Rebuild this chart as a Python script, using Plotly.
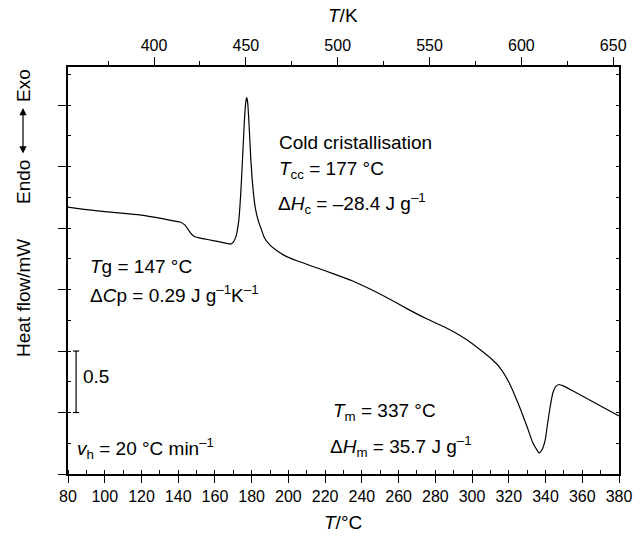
import plotly.graph_objects as go

# ---- data ----
temp_c = [80, 90, 100, 112, 120, 130, 138, 141, 143.7, 146.4, 148, 149.5, 152, 156, 162, 167, 168.5,
          170, 171.5, 173, 174, 175, 176, 176.8, 177.3, 177.8, 178.6, 179.5, 180.8, 182, 183.5, 185,
          187, 190, 194, 198, 205, 215, 225, 235, 245, 255, 265, 275, 285, 293, 300, 305, 310, 315,
          320, 325, 330, 333, 335, 336.5, 338, 339.8, 341, 342.5, 344, 345.5, 347.4, 350, 355, 360,
          365, 370, 375, 380]
heat_flow = [2.171, 2.150, 2.134, 2.118, 2.106, 2.081, 2.057, 2.049, 2.024, 1.967, 1.939, 1.927, 1.919,
             1.907, 1.890, 1.874, 1.870, 1.886, 1.935, 2.065, 2.268, 2.553, 2.862, 3.024, 3.061, 3.024,
             2.837, 2.569, 2.309, 2.163, 2.065, 2.000, 1.919, 1.862, 1.813, 1.776, 1.732, 1.679, 1.626,
             1.569, 1.500, 1.423, 1.341, 1.264, 1.195, 1.130, 1.062, 1.004, 0.943, 0.868, 0.748, 0.577,
             0.382, 0.256, 0.203, 0.171, 0.195, 0.276, 0.398, 0.545, 0.659, 0.711, 0.728, 0.715, 0.675,
             0.634, 0.593, 0.553, 0.512, 0.472]

x_range_c = [80, 380]
x_ticks_c = list(range(80, 381, 20))
k_offset = 273.15
k_ticks = [400, 450, 500, 550, 600, 650]
y_range = [0, 3.31]
scale_bar = [0.5, 1.0]   # 0.5 mW scale bar

FONT = "Liberation Sans, Arial, sans-serif"
TXT = 19

fig = go.Figure()
fig.add_trace(go.Scatter(x=temp_c, y=heat_flow, mode="lines",
                         line=dict(color="black", width=1.2, shape="spline", smoothing=0.5),
                         hoverinfo="skip", showlegend=False))
# invisible trace on secondary axes
fig.add_trace(go.Scatter(x=[x_range_c[0] + k_offset], y=[y_range[0]], xaxis="x2", yaxis="y2",
                         mode="markers", marker=dict(opacity=0), hoverinfo="skip", showlegend=False))

# scale bar
sb_x = 84.4
fig.add_shape(type="line", xref="x", yref="y", x0=sb_x, x1=sb_x, y0=scale_bar[0], y1=scale_bar[1],
              line=dict(color="black", width=1.2))
for yv in scale_bar:
    fig.add_shape(type="line", xref="x", yref="y", x0=sb_x - 1.7, x1=sb_x + 1.7, y0=yv, y1=yv,
                  line=dict(color="black", width=1.2))

L, R, T, B = 68, 619, 67, 474
def px(xp):
    return (xp - L) / (R - L)
def py(yp):
    return (B - yp) / (B - T)

def note(text, xp, yp, size=TXT, xanchor="left", angle=0):
    fig.add_annotation(text=text, xref="paper", yref="paper", x=px(xp), y=py(yp),
                       xanchor=xanchor, yanchor="middle", showarrow=False, textangle=angle,
                       font=dict(family=FONT, size=size, color="black"))

note("Cold cristallisation", 277, 142)
note("<i>T</i><sub>cc</sub> = 177 °C", 277, 170)
note("Δ<i>H</i><sub>c</sub> = –28.4 J g<sup>–1</sup>", 276, 203)
note("<i>T</i>g = 147 °C", 88, 266)
note("Δ<i>C</i>p = 0.29 J g<sup>–1</sup>K<sup>–1</sup>", 88, 294)
note("0.5", 81, 376)
note("<i>v</i><sub>h</sub> = 20 °C min<sup>–1</sup>", 75, 448)
note("<i>T</i><sub>m</sub> = 337 °C", 331, 412)
note("Δ<i>H</i><sub>m</sub> = 35.7 J g<sup>–1</sup>", 328, 446)

# axis titles
note("<i>T</i>/°C", 343, 522, xanchor="center")
note("<i>T</i>/K", 343, 15, xanchor="center")
note("Heat flow/mW", 23, 298, xanchor="center", angle=-90)
note("Exo", 23, 86, xanchor="center", angle=-90)
note("Endo", 23, 182, xanchor="center", angle=-90)
# double-headed arrow Endo <-> Exo
fig.add_annotation(xref="paper", yref="paper", x=px(23), y=py(108), ax=0, ay=47,
                   axref="pixel", ayref="pixel", text="", showarrow=True, arrowhead=2,
                   startarrowhead=2, arrowside="end+start", arrowwidth=1.2, arrowsize=1.2,
                   startarrowsize=1.2, arrowcolor="black")

axis_line = dict(showline=True, linecolor="black", linewidth=1.5, showgrid=False, zeroline=False,
                 tickcolor="black", tickwidth=1.2)
fig.update_layout(
    width=643, height=542, margin=dict(l=L, r=643 - R, t=T, b=542 - B),
    paper_bgcolor="white", plot_bgcolor="white",
    font=dict(family=FONT, size=16, color="black"),
    xaxis=dict(range=x_range_c, tickvals=x_ticks_c, ticks="outside", ticklen=7,
               minor=dict(dtick=10, ticks="inside", ticklen=4, tickcolor="black"),
               tickfont=dict(size=16), **axis_line),
    xaxis2=dict(range=[x_range_c[0] + k_offset, x_range_c[1] + k_offset], overlaying="x", side="top",
                tickvals=k_ticks, ticks="outside", ticklen=8,
                minor=dict(dtick=25, tick0=375, ticks="outside", ticklen=4, tickcolor="black"),
                tickfont=dict(size=16), **axis_line),
    yaxis=dict(range=y_range, dtick=0.5, tick0=0, ticks="outside", ticklen=8, showticklabels=False,
               minor=dict(dtick=0.25, ticks="inside", ticklen=3, tickcolor="black"), **axis_line),
    yaxis2=dict(range=y_range, overlaying="y", side="right", dtick=0.25, tick0=0, ticks="inside",
                ticklen=3, showticklabels=False, **axis_line),
)

fig.write_html("out.html")
